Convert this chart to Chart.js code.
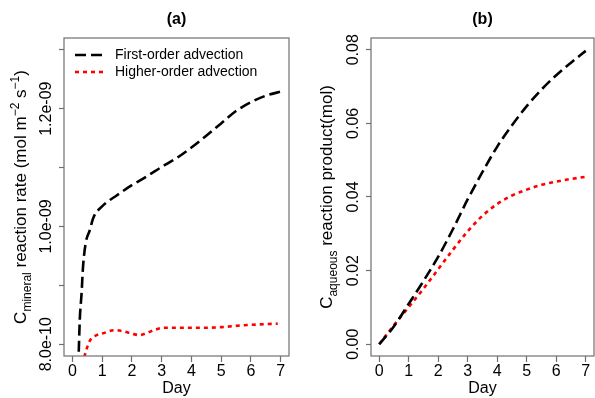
<!DOCTYPE html>
<html>
<head>
<meta charset="utf-8">
<script src="https://cdn.jsdelivr.net/npm/chart.js@4/dist/chart.umd.min.js"></script>
<style>
  html, body { margin: 0; padding: 0; background: #fff; }
  #wrap { position: relative; width: 595px; height: 398px; }
  canvas { position: absolute; top: 0; }
  #chartA { left: 0; }
  #chartB { left: 298px; }
</style>
</head>
<body>
<div id="wrap">
  <canvas id="chartA" width="298" height="398"></canvas>
  <canvas id="chartB" width="297" height="398"></canvas>
</div>
<script>
// panel (a): mineral reaction rate
const dayFirstA = [0.2, 0.25, 0.31, 0.36, 0.45, 0.59, 0.7, 1.0, 1.5, 2.0, 2.5, 3.0, 3.5, 4.0, 4.5, 5.0, 5.5, 6.0, 6.5, 7.0];
const rateFirstA = [0.76e-9, 0.841e-9, 0.886e-9, 0.932e-9, 0.972e-9, 0.994e-9, 1.014e-9, 1.034e-9, 1.053e-9, 1.07e-9,
  1.085e-9, 1.101e-9, 1.116e-9, 1.134e-9, 1.154e-9, 1.175e-9, 1.196e-9, 1.211e-9, 1.222e-9, 1.229e-9];
const dayHigherA = [0.4, 0.5, 0.6, 0.8, 1.0, 1.44, 1.7, 2.0, 2.25, 2.5, 2.8, 3.1, 4.0, 4.5, 5.0, 5.7, 6.9];
const rateHigherA = [0.778e-9, 0.795e-9, 0.807e-9, 0.815e-9, 0.818e-9, 0.824e-9, 0.822e-9, 0.818e-9, 0.8155e-9, 0.819e-9,
  0.825e-9, 0.828e-9, 0.828e-9, 0.828e-9, 0.829e-9, 0.832e-9, 0.835e-9];

// panel (b): aqueous reaction product
const dayB = [0, 0.5, 1, 1.5, 2, 2.5, 3, 3.5, 4, 4.5, 5, 5.5, 6, 6.5, 7];
const productFirstB = [0, 0.0049, 0.011, 0.0172, 0.0238, 0.0313, 0.0394, 0.0468, 0.0537, 0.0595, 0.0647, 0.0692, 0.0731, 0.0765, 0.0797];
const productHigherB = [0, 0.0052, 0.0101, 0.0151, 0.0204, 0.0257, 0.0307, 0.0349, 0.0381, 0.0404, 0.042, 0.0433, 0.0442, 0.0449, 0.0455];

const seriesNames = ['First-order advection', 'Higher-order advection'];
const xTicks = [0, 1, 2, 3, 4, 5, 6, 7];
const yTicksA = [0.8e-9, 0.9e-9, 1.0e-9, 1.1e-9, 1.2e-9, 1.3e-9];
const yLabelValuesA = [0.8e-9, 1.0e-9, 1.2e-9];
const yLabelsA = ['8.0e-10', '1.0e-09', '1.2e-09'];
const yTicksB = [0, 0.02, 0.04, 0.06, 0.08];
const yLabelsB = ['0.00', '0.02', '0.04', '0.06', '0.08'];

Chart.defaults.font.family = '"Liberation Sans", Arial, sans-serif';
Chart.defaults.color = '#000';

const FONT = '"Liberation Sans", Arial, sans-serif';
const AXIS_GREY = '#707070';

// draws the R-style bits: box, panel title, rotated y labels, y title, legend
const rDecor = {
  id: 'rDecor',
  afterDraw(chart, args, o) {
    const { ctx, chartArea: a } = chart;
    const ys = chart.scales.y;
    ctx.save();
    ctx.strokeStyle = AXIS_GREY;
    ctx.lineWidth = 1.2;
    ctx.strokeRect(a.left, a.top, a.right - a.left, a.bottom - a.top);

    ctx.fillStyle = '#000';
    ctx.textAlign = 'center';
    ctx.textBaseline = 'middle';
    ctx.font = 'bold 16px ' + FONT;
    ctx.fillText(o.title, (a.left + a.right) / 2, 20);

    ctx.font = '16px ' + FONT;
    o.yLabels.forEach((lab, i) => {
      ctx.save();
      ctx.translate(o.tickX, ys.getPixelForValue(o.yLabelValues[i]));
      ctx.rotate(-Math.PI / 2);
      ctx.fillText(lab, 0, 0);
      ctx.restore();
    });

    // y title with sub / superscripts
    const parts = o.yTitle;
    const fontOf = p => (p.s ? '12px ' : '17px ') + FONT;
    let total = 0;
    parts.forEach(p => { ctx.font = fontOf(p); total += ctx.measureText(p.t).width; });
    ctx.save();
    ctx.translate(o.titleX, (a.top + a.bottom) / 2);
    ctx.rotate(-Math.PI / 2);
    ctx.textAlign = 'left';
    ctx.textBaseline = 'alphabetic';
    let cx = -total / 2;
    parts.forEach(p => {
      ctx.font = fontOf(p);
      const dy = p.s === 1 ? 5 : p.s === 2 ? -7 : 0;
      ctx.fillText(p.t, cx, dy);
      cx += ctx.measureText(p.t).width;
    });
    ctx.restore();

    if (o.legend) {
      chart.data.datasets.forEach((ds, i) => {
        const ly = 55 + i * 17;
        ctx.save();
        ctx.strokeStyle = ds.borderColor;
        ctx.lineWidth = ds.borderWidth;
        ctx.setLineDash(ds.borderDash);
        ctx.beginPath();
        ctx.moveTo(75, ly);
        ctx.lineTo(103, ly);
        ctx.stroke();
        ctx.restore();
        ctx.font = '14px ' + FONT;
        ctx.textAlign = 'left';
        ctx.textBaseline = 'middle';
        ctx.fillText(ds.label, 115, ly);
      });
    }
    ctx.restore();
  }
};

function pts(xs, ys) {
  return xs.map((x, i) => ({ x: x, y: ys[i] }));
}

function makeDatasets(x1, y1, x2, y2) {
  return [
    {
      label: seriesNames[0], data: pts(x1, y1),
      borderColor: '#000', borderWidth: 2.6, borderDash: [11, 5],
      pointRadius: 0, cubicInterpolationMode: 'monotone', clip: 0
    },
    {
      label: seriesNames[1], data: pts(x2, y2),
      borderColor: '#ff0000', borderWidth: 2.6, borderDash: [4, 4],
      pointRadius: 0, cubicInterpolationMode: 'monotone', clip: 0
    }
  ];
}

function makeOptions(cfg) {
  return {
    responsive: false,
    animation: false,
    layout: { padding: { top: 38, right: cfg.padRight, left: 0, bottom: 0 } },
    plugins: {
      legend: { display: false },
      tooltip: { enabled: false },
      rDecor: cfg.decor
    },
    scales: {
      x: {
        type: 'linear', min: -0.28, max: 7.28,
        afterBuildTicks: s => { s.ticks = xTicks.map(v => ({ value: v })); },
        afterFit: s => { s.height = 42; },
        border: { display: false },
        grid: { drawOnChartArea: false, tickLength: 6, color: AXIS_GREY, tickWidth: 1.2 },
        ticks: { font: { size: 16 }, color: '#000', padding: 0, maxRotation: 0 },
        title: { display: true, text: 'Day', font: { size: 16 }, color: '#000', padding: { top: 0, bottom: 0 } }
      },
      y: {
        type: 'linear', min: cfg.yMin, max: cfg.yMax,
        afterBuildTicks: s => { s.ticks = cfg.yTicks.map(v => ({ value: v })); },
        afterFit: s => { s.width = cfg.yWidth; },
        border: { display: false },
        grid: { drawOnChartArea: false, tickLength: 5, color: AXIS_GREY, tickWidth: 1.2 },
        ticks: { display: false }
      }
    }
  };
}

new Chart(document.getElementById('chartA'), {
  type: 'line',
  data: { datasets: makeDatasets(dayFirstA, rateFirstA, dayHigherA, rateHigherA) },
  options: makeOptions({
    padRight: 9, yWidth: 64, yMin: 0.78e-9, yMax: 1.32e-9, yTicks: yTicksA,
    decor: {
      title: '(a)', tickX: 47, titleX: 26, legend: true,
      yLabels: yLabelsA, yLabelValues: yLabelValuesA,
      yTitle: [
        { t: 'C', s: 0 }, { t: 'mineral', s: 1 }, { t: ' reaction rate (mol m', s: 0 },
        { t: '\u22122', s: 2 }, { t: ' s', s: 0 }, { t: '\u22121', s: 2 }, { t: ')', s: 0 }
      ]
    }
  }),
  plugins: [rDecor]
});

new Chart(document.getElementById('chartB'), {
  type: 'line',
  data: { datasets: makeDatasets(dayB, productFirstB, dayB, productHigherB) },
  options: makeOptions({
    padRight: 1, yWidth: 73, yMin: -0.0032, yMax: 0.0832, yTicks: yTicksB,
    decor: {
      title: '(b)', tickX: 56, titleX: 34, legend: false,
      yLabels: yLabelsB, yLabelValues: yTicksB,
      yTitle: [
        { t: 'C', s: 0 }, { t: 'aqueous', s: 1 }, { t: ' reaction product(mol)', s: 0 }
      ]
    }
  }),
  plugins: [rDecor]
});
</script>
</body>
</html>
